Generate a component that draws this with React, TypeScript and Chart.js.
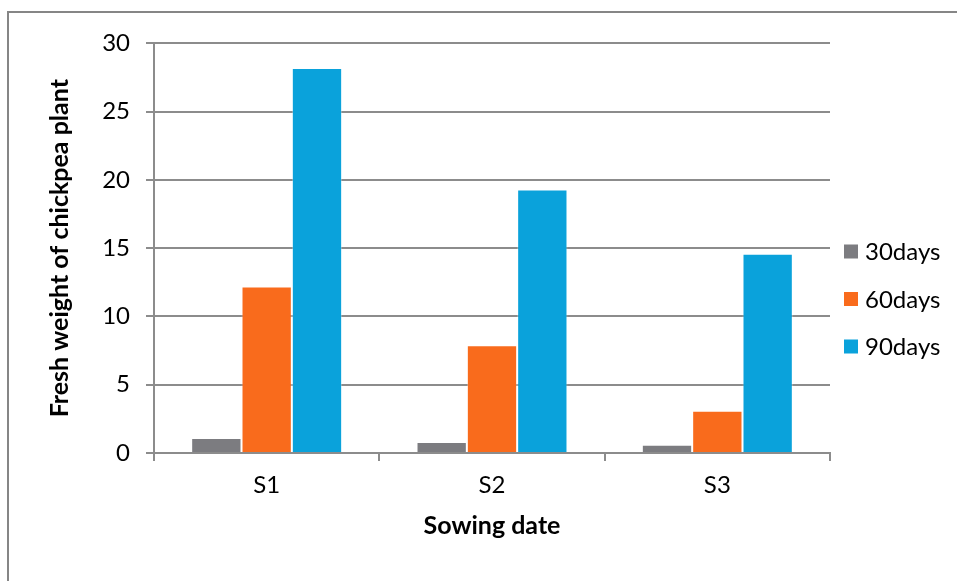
import React, { useEffect, useRef } from "react";
import { Chart, registerables } from "chart.js";

Chart.register(...registerables);

// Fresh weight of chickpea plant by sowing date and plant age
const categories = ["S1", "S2", "S3"];
const seriesLabels = ["30days", "60days", "90days"];
const days30 = [1.1, 0.8, 0.6];
const days60 = [12.2, 7.9, 3.1];
const days90 = [28.2, 19.3, 14.6];
const seriesColors = ["#7C7C80", "#F96B1C", "#0AA2DB"];
const yTicks = [0, 5, 10, 15, 20, 25, 30];

const FONT = "Lato, 'Open Sans', sans-serif";
const GRID = "#8c8c8c";

// Vertical legend drawn to the right of the plot area
const sideLegend = {
  id: "sideLegend",
  afterDraw(chart: any) {
    const { ctx, chartArea } = chart;
    const rowGap = 47.5;
    const box = 14;
    const n = chart.data.datasets.length;
    const cy = chart.height / 2 + 2;
    ctx.save();
    ctx.font = `24px ${FONT}`;
    ctx.textBaseline = "middle";
    ctx.textAlign = "left";
    chart.data.datasets.forEach((ds: any, i: number) => {
      const y = cy + (i - (n - 1) / 2) * rowGap;
      const x = chartArea.right + 14;
      ctx.fillStyle = ds.backgroundColor;
      ctx.fillRect(x, y - box / 2, box, box);
      ctx.fillStyle = "#000";
      ctx.fillText(ds.label, x + 21, y + 1);
    });
    ctx.restore();
  },
};

export default function App() {
  const canvasRef = useRef<HTMLCanvasElement | null>(null);

  useEffect(() => {
    document.body.style.overflow = "hidden";
    const canvas = canvasRef.current;
    if (!canvas) return;
    const data = [days30, days60, days90];
    const chart = new Chart(canvas, {
      type: "bar",
      data: {
        labels: categories,
        datasets: seriesLabels.map((label, i) => ({
          label,
          data: data[i],
          backgroundColor: seriesColors[i],
          borderColor: "rgba(255,255,255,0.35)",
          borderWidth: 1,
          categoryPercentage: 0.67,
          barPercentage: 1,
        })),
      },
      options: {
        responsive: false,
        animation: false,
        devicePixelRatio: 1,
        layout: { padding: { top: 29, right: 127, left: 0, bottom: 0 } },
        plugins: {
          legend: { display: false },
          tooltip: { enabled: false },
        },
        scales: {
          x: {
            afterFit: (scale: any) => {
              scale.height = 128;
            },
            grid: {
              offset: true,
              drawOnChartArea: false,
              drawTicks: true,
              tickLength: 8,
              color: GRID,
              lineWidth: 2,
            },
            border: { color: GRID, width: 2 },
            ticks: {
              color: "#000",
              padding: 10,
              font: { family: FONT, size: 24 },
            },
            title: {
              display: true,
              text: "Sowing date",
              color: "#000",
              font: { family: FONT, size: 25, weight: "bold" },
              padding: { top: 0, bottom: 40 },
            },
          },
          y: {
            min: 0,
            max: 30,
            afterFit: (scale: any) => {
              scale.width = 145;
            },
            afterBuildTicks: (scale: any) => {
              scale.ticks = yTicks.map((v) => ({ value: v }));
            },
            grid: {
              color: GRID,
              lineWidth: 2,
              tickLength: 8,
            },
            border: { color: GRID, width: 2 },
            ticks: {
              color: "#000",
              padding: 16,
              font: { family: FONT, size: 24 },
            },
            title: {
              display: true,
              text: "Fresh weight of chickpea plant",
              color: "#000",
              font: { family: FONT, size: 25, weight: "bold" },
              padding: { top: 36, bottom: 0 },
            },
          },
        },
      },
      plugins: [sideLegend],
    });
    return () => chart.destroy();
  }, []);

  return (
    <div
      style={{
        position: "fixed",
        left: 7,
        top: 11,
        width: 950,
        height: 570,
        boxSizing: "border-box",
        borderLeft: "2px solid #868686",
        borderTop: "2px solid #868686",
        background: "#fff",
      }}
    >
      <canvas ref={canvasRef} width={948} height={568} style={{ display: "block" }} />
    </div>
  );
}
